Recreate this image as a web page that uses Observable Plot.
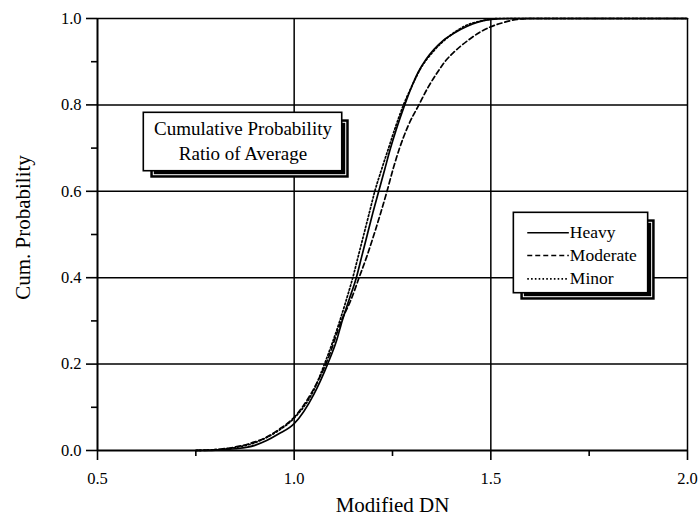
<!DOCTYPE html>
<html><head><meta charset="utf-8">
<script src="https://cdn.jsdelivr.net/npm/d3@7"></script>
<script src="https://cdn.jsdelivr.net/npm/@observablehq/plot@0.6"></script>
<style>body{margin:0;background:#fff}#chart{width:700px;height:519px}</style>
</head><body><div id="chart"></div>
<script>
// ---- data ----
const seriesNames = ["Heavy", "Moderate", "Minor"];
const heavyX = [0.75, 0.80, 0.85, 0.90, 0.93, 0.96, 1.00, 1.05, 1.085, 1.108, 1.122, 1.14, 1.158, 1.172, 1.186, 1.20, 1.215, 1.23, 1.245, 1.262, 1.281, 1.30, 1.315, 1.335, 1.355, 1.38, 1.406, 1.44, 1.465, 1.50, 1.55, 1.60, 2.00];
const heavyY = [0, 0.001, 0.004, 0.012, 0.023, 0.038, 0.062, 0.13, 0.20, 0.255, 0.30, 0.35, 0.40, 0.45, 0.50, 0.55, 0.60, 0.65, 0.70, 0.75, 0.80, 0.845, 0.875, 0.905, 0.928, 0.95, 0.966, 0.982, 0.991, 0.998, 1.0, 1.0, 1.0];
const moderateX = [0.75, 0.80, 0.85, 0.90, 0.93, 0.96, 1.00, 1.05, 1.085, 1.12, 1.145, 1.165, 1.185, 1.203, 1.22, 1.236, 1.251, 1.268, 1.29, 1.317, 1.34, 1.364, 1.385, 1.406, 1.44, 1.47, 1.50, 1.53, 1.567, 1.60, 2.00];
const moderateY = [0, 0.002, 0.008, 0.02, 0.031, 0.048, 0.077, 0.143, 0.21, 0.30, 0.35, 0.40, 0.45, 0.50, 0.55, 0.60, 0.65, 0.70, 0.752, 0.80, 0.84, 0.875, 0.902, 0.922, 0.948, 0.967, 0.981, 0.99, 0.998, 1.0, 1.0];
const minorX = [0.75, 0.80, 0.85, 0.90, 0.93, 0.96, 1.00, 1.05, 1.077, 1.116, 1.133, 1.149, 1.163, 1.177, 1.191, 1.205, 1.222, 1.240, 1.258, 1.278, 1.30, 1.32, 1.355, 1.40, 1.44, 1.48, 1.52, 2.00];
const minorY = [0, 0.002, 0.007, 0.018, 0.03, 0.046, 0.075, 0.14, 0.20, 0.30, 0.35, 0.40, 0.45, 0.50, 0.55, 0.60, 0.65, 0.70, 0.75, 0.80, 0.845, 0.882, 0.925, 0.963, 0.985, 0.995, 1.0, 1.0];

const xMajorTicks = [0.5, 1.0, 1.5, 2.0];
const xMinorTicks = [0.75, 1.25, 1.75];
const yMajorTicks = [0.0, 0.2, 0.4, 0.6, 0.8, 1.0];
const yMinorTicks = [0.1, 0.3, 0.5, 0.7, 0.9];
const xGridLines = [1.0, 1.5, 2.0];
const yGridLines = [0.2, 0.4, 0.6, 0.8, 1.0];
const titleLines = ["Cumulative Probability", "Ratio of Average"];
const xTitle = "Modified DN";
const yTitle = "Cum. Probability";

// ---- build ----
const rows = (xs, ys) => xs.map((x, i) => ({x, y: ys[i]}));
const heavy = rows(heavyX, heavyY);
const moderate = rows(moderateX, moderateY);
const minor = rows(minorX, minorY);

const FONT = "'Liberation Serif', 'Times New Roman', serif";
const dashFor = {Heavy: null, Moderate: "5,3", Minor: "1.6,2.2"};

// annotation boxes (data coordinates)
const titleBox = {x1: 0.6177, x2: 1.1222, y1: 0.6465, y2: 0.7817};
const legendBox = {x1: 1.5585, x2: 1.900, y1: 0.3641, y2: 0.5502};
const legendRowY = [0.504, 0.4514, 0.3975];
const legendRows = seriesNames.map((name, i) => ({name, y: legendRowY[i]}));
const legendLineX = [1.5926, 1.6983];

function boxMarks(b) {
  return [
    Plot.rect([b], {x1: "x1", x2: "x2", y1: "y1", y2: "y2", fill: "black", dx: 7, dy: 7}),
    Plot.rect([b], {x1: "x1", x2: "x2", y1: "y1", y2: "y2", fill: "none", stroke: "white", strokeWidth: 1, dx: 7, dy: 7, inset: 3}),
    Plot.rect([b], {x1: "x1", x2: "x2", y1: "y1", y2: "y2", fill: "white", stroke: "black", strokeWidth: 1.6})
  ];
}

const chart = Plot.plot({
  width: 700,
  height: 519,
  marginLeft: 97,
  marginRight: 13,
  marginTop: 18,
  marginBottom: 69,
  style: {fontFamily: FONT, fontSize: "16px", color: "black", background: "white"},
  x: {domain: [0.5, 2.0], label: null},
  y: {domain: [0, 1], label: null},
  marks: [
    Plot.ruleX(xGridLines, {stroke: "black", strokeWidth: 1.5}),
    Plot.ruleY(yGridLines, {stroke: "black", strokeWidth: 1.5}),
    Plot.ruleX([0.5], {stroke: "black", strokeWidth: 2}),
    Plot.ruleY([0], {stroke: "black", strokeWidth: 2}),
    Plot.axisX(xMajorTicks, {tickSize: 10, tickPadding: 12, tickFormat: d3.format(".1f"), fontSize: 16.5, strokeWidth: 1.6, label: null}),
    Plot.axisX(xMinorTicks, {tickSize: 6, tickFormat: () => "", strokeWidth: 1.6, label: null}),
    Plot.axisY(yMajorTicks, {tickSize: 11, tickPadding: 5, tickFormat: d3.format(".1f"), fontSize: 16.5, strokeWidth: 1.6, label: null}),
    Plot.axisY(yMinorTicks, {tickSize: 6, tickFormat: () => "", strokeWidth: 1.6, label: null}),
    Plot.line(moderate, {x: "x", y: "y", stroke: "black", strokeWidth: 1.7, strokeDasharray: dashFor.Moderate, curve: "monotone-x"}),
    Plot.line(minor, {x: "x", y: "y", stroke: "black", strokeWidth: 1.7, strokeDasharray: dashFor.Minor, curve: "monotone-x"}),
    Plot.line(heavy, {x: "x", y: "y", stroke: "black", strokeWidth: 1.7, curve: "monotone-x"}),
    ...boxMarks(titleBox),
    Plot.text([titleLines[0]], {x: () => (titleBox.x1 + titleBox.x2) / 2, y: () => 0.7437, text: d => d, fontSize: 19, lineAnchor: "middle", fill: "black"}),
    Plot.text([titleLines[1]], {x: () => (titleBox.x1 + titleBox.x2) / 2, y: () => 0.6875, text: d => d, fontSize: 19, lineAnchor: "middle", fill: "black"}),
    ...boxMarks(legendBox),
    ...legendRows.map(r => Plot.link([r], {x1: () => legendLineX[0], x2: () => legendLineX[1], y1: "y", y2: "y", stroke: "black", strokeWidth: 1.7, strokeDasharray: dashFor[r.name]})),
    Plot.text(legendRows, {x: () => legendLineX[1], y: "y", text: "name", textAnchor: "start", dx: 1, fontSize: 17.5, lineAnchor: "middle", fill: "black"}),
    Plot.text([xTitle], {frameAnchor: "bottom", dy: 55, text: d => d, fontSize: 21, lineAnchor: "middle", textAnchor: "middle", fill: "black"}),
    Plot.text([yTitle], {frameAnchor: "left", dx: -74, dy: -7, rotate: -90, text: d => d, fontSize: 21, lineAnchor: "middle", textAnchor: "middle", fill: "black"})
  ]
});
document.getElementById("chart").appendChild(chart);
</script>
</body></html>
